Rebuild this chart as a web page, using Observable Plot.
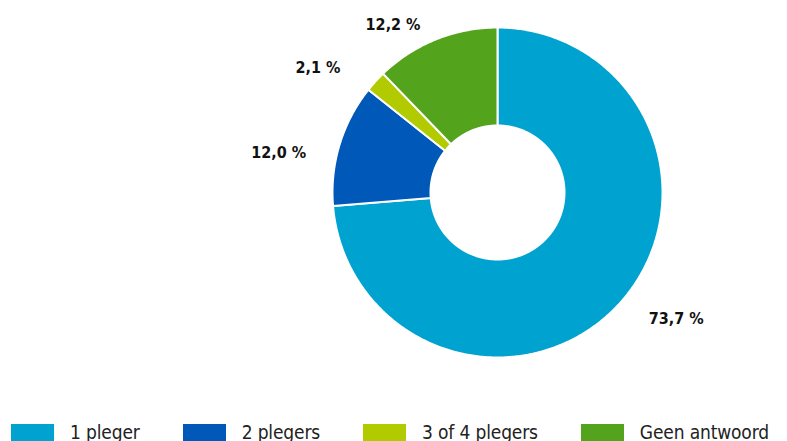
<!DOCTYPE html>
<html><head><meta charset="utf-8">
<script src="https://cdn.jsdelivr.net/npm/d3@7"></script>
<script src="https://cdn.jsdelivr.net/npm/@observablehq/plot@0.6"></script>
<style>
body{margin:0;background:#fff;font-family:"Liberation Sans Narrow","DejaVu Sans Condensed",sans-serif;}
#legend{display:flex;margin-top:14px;padding-left:11px;font-size:19px;letter-spacing:-0.15px;color:#222;line-height:17px;white-space:nowrap;}
.item{display:flex;align-items:flex-start;margin-right:43px;}
.sw{width:43px;height:17px;margin-right:16px;}
</style></head><body>
<div id="chart"></div>
<div id="legend"></div>
<script>
const categories = ["1 pleger", "2 plegers", "3 of 4 plegers", "Geen antwoord"];
const values = [73.7, 12.0, 2.1, 12.2];
const labels = ["73,7 %", "12,0 %", "2,1 %", "12,2 %"];
const colors = ["#00a3cf", "#0058b8", "#b1cb00", "#53a31d"];

const W = 787, H = 410, cx = 497, cy = 192, R = 165, inner = 67 / 165;
const total = d3.sum(values);
let cum = 0;
const poly = [];
const labelData = [];
categories.forEach((c, i) => {
  const a0 = cum / total * 2 * Math.PI;
  cum += values[i];
  const a1 = cum / total * 2 * Math.PI;
  const n = Math.max(4, Math.ceil((a1 - a0) / 0.01));
  for (let k = 0; k <= n; k++) { const a = a0 + (a1 - a0) * k / n; poly.push({cat: c, x: Math.sin(a), y: Math.cos(a)}); }
  for (let k = n; k >= 0; k--) { const a = a0 + (a1 - a0) * k / n; poly.push({cat: c, x: inner * Math.sin(a), y: inner * Math.cos(a)}); }
  const am = (a0 + a1) / 2 - 6 * Math.PI / 180;
  labelData.push({label: labels[i], x: 1.35 * Math.sin(am), y: Math.min(1.28 * Math.cos(am), (cy - 24) / R)});
});

const chart = Plot.plot({
  width: W, height: H,
  margin: 0,
  x: {domain: [-cx / R, (W - cx) / R], axis: null},
  y: {domain: [-(H - cy) / R, cy / R], axis: null},
  color: {domain: categories, range: colors},
  marks: [
    Plot.line(poly, {x: "x", y: "y", z: "cat", fill: "cat", stroke: "white", strokeWidth: 2, curve: "linear-closed"}),
    Plot.text(labelData, {x: "x", y: "y", text: "label", fontWeight: "bold", fontSize: 16, fill: "#111",
      fontFamily: "'Liberation Sans Narrow','DejaVu Sans Condensed',sans-serif"})
  ]
});
document.getElementById("chart").appendChild(chart);

const lg = document.getElementById("legend");
categories.forEach((c, i) => {
  const it = document.createElement("div"); it.className = "item";
  const sw = document.createElement("div"); sw.className = "sw"; sw.style.background = colors[i];
  const t = document.createElement("span"); t.textContent = c;
  it.appendChild(sw); it.appendChild(t); lg.appendChild(it);
});
</script></body></html>
